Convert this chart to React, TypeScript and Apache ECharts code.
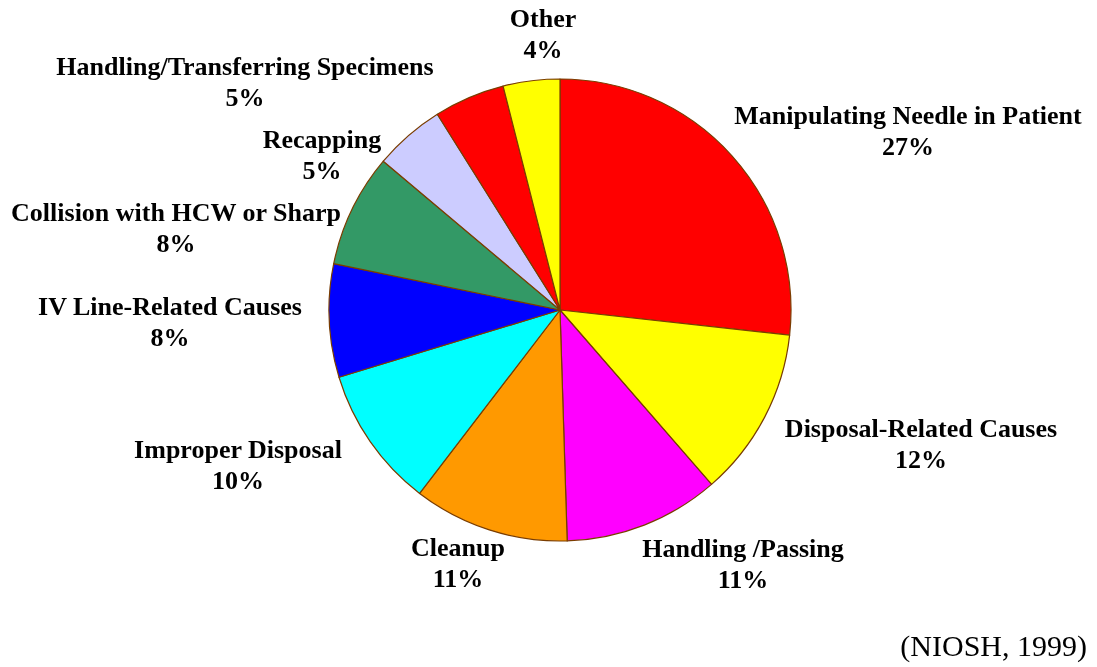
import React, { useEffect, useRef } from "react";
import * as echarts from "echarts";

const categories = [
  "Manipulating Needle in Patient",
  "Disposal-Related Causes",
  "Handling /Passing",
  "Cleanup",
  "Improper Disposal",
  "IV Line-Related Causes",
  "Collision with HCW or Sharp",
  "Recapping",
  "Handling/Transferring Specimens",
  "Other",
];
const values = [27, 12, 11, 11, 10, 8, 8, 5, 5, 4];
const colors = [
  "#FF0000",
  "#FFFF00",
  "#FF00FF",
  "#FF9900",
  "#00FFFF",
  "#0000FF",
  "#339966",
  "#CCCCFF",
  "#FF0000",
  "#FFFF00",
];
// label centre positions (px)
const labelPos: [number, number][] = [
  [908, 131],
  [921, 444],
  [743, 564],
  [458, 563],
  [238, 465],
  [170, 322],
  [176, 228],
  [322, 155],
  [245, 82],
  [543, 34],
];
const source = "(NIOSH, 1999)";

const FONT = "Liberation Serif";

export default function App() {
  const ref = useRef<HTMLDivElement>(null);
  useEffect(() => {
    if (!ref.current) return;
    const chart = echarts.init(ref.current, undefined, { renderer: "svg" });
    const labels: any[] = [];
    categories.forEach((name, i) => {
      labels.push({
        type: "text",
        x: labelPos[i][0],
        y: labelPos[i][1] - 15.5,
        silent: true,
        style: {
          text: name,
          fontFamily: FONT,
          fontWeight: "bold",
          fontSize: 26,
          fill: "#000",
          align: "center",
          verticalAlign: "middle",
        },
      });
      labels.push({
        type: "text",
        x: labelPos[i][0],
        y: labelPos[i][1] + 15.5,
        silent: true,
        style: {
          text: values[i] + "%",
          fontFamily: FONT,
          fontWeight: "bold",
          fontSize: 26,
          fill: "#000",
          align: "center",
          verticalAlign: "middle",
        },
      });
    });
    labels.push({
      type: "text",
      x: 1087,
      y: 645,
      silent: true,
      style: {
        text: source,
        fontFamily: FONT,
        fontWeight: "normal",
        fontSize: 30,
        fill: "#000",
        align: "right",
        verticalAlign: "middle",
      },
    });
    chart.setOption({
      animation: false,
      graphic: labels,
      series: [
        {
          type: "pie",
          center: [560, 310],
          radius: [0, 231],
          startAngle: 90,
          clockwise: true,
          data: categories.map((name, i) => ({
            name,
            value: values[i],
            itemStyle: { color: colors[i] },
          })),
          itemStyle: { borderColor: "#7a3d00", borderWidth: 1.2 },
          label: { show: false },
          labelLine: { show: false },
          emphasis: { disabled: true },
        },
      ],
    });
    return () => chart.dispose();
  }, []);
  return (
    <div
      ref={ref}
      style={{ position: "fixed", left: 0, top: 0, width: 1097, height: 667 }}
    />
  );
}
